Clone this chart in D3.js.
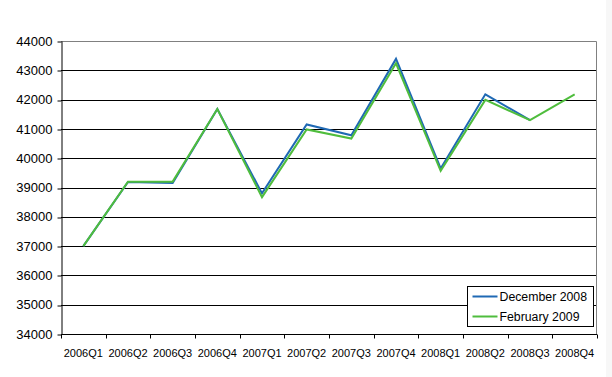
<!DOCTYPE html>
<html>
<head>
<meta charset="utf-8">
<script src="https://cdn.jsdelivr.net/npm/d3@7"></script>
<style>
  body { margin: 0; background: #fff; }
  svg { display: block; font-family: "Liberation Sans", Arial, sans-serif; }
</style>
</head>
<body>
<svg id="chart" width="612" height="377"></svg>
<script>
// Datos
const quarters = ["2006Q1", "2006Q2", "2006Q3", "2006Q4", "2007Q1", "2007Q2",
                  "2007Q3", "2007Q4", "2008Q1", "2008Q2", "2008Q3", "2008Q4"];
const dec2008 = [37000, 39190, 39150, 41680, 38800, 41150, 40780, 43390, 39650, 42180, 41300, null];
const feb2009 = [37000, 39200, 39200, 41680, 38670, 40980, 40670, 43240, 39570, 41990, 41300, 42180];
const yTicks = [34000, 35000, 36000, 37000, 38000, 39000, 40000, 41000, 42000, 43000, 44000];

const series = [
  { name: "December 2008", values: dec2008, color: "#1f69b4" },
  { name: "February 2009", values: feb2009, color: "#4fbd3d" }
];

const svg = d3.select("#chart");
const width = +svg.attr("width");
const height = +svg.attr("height");
const margin = { top: 41, right: 15, bottom: 43, left: 61 };

// franja gris clara a la derecha (borde del área del gráfico)
svg.append("rect")
  .attr("x", 606).attr("y", 0)
  .attr("width", width - 606).attr("height", height)
  .attr("fill", "#f7f7f7");

const x = d3.scaleBand()
  .domain(quarters)
  .range([margin.left, width - margin.right]);

const y = d3.scaleLinear()
  .domain([34000, 44000])
  .range([height - margin.bottom, margin.top]);

// Líneas de cuadrícula
svg.append("g")
  .selectAll("line")
  .data(yTicks.filter(d => d > 34000 && d < 44000))
  .enter()
  .append("line")
  .attr("x1", margin.left).attr("x2", width - margin.right)
  .attr("y1", d => Math.round(y(d)) + 0.5)
  .attr("y2", d => Math.round(y(d)) + 0.5)
  .attr("stroke", "#000")
  .attr("stroke-width", 1);

// Borde superior y derecho en gris
svg.append("path")
  .attr("d", `M${margin.left},${margin.top + 0.5}H${width - margin.right - 0.5}V${height - margin.bottom}`)
  .attr("fill", "none")
  .attr("stroke", "#808080")
  .attr("stroke-width", 1);

// Eje Y
const yAxis = svg.append("g")
  .attr("transform", `translate(${margin.left + 0.5},0)`)
  .call(d3.axisLeft(y).tickValues(yTicks).tickSize(4).tickSizeOuter(0).tickPadding(5).tickFormat(d3.format("d")));
yAxis.selectAll("line").attr("transform", d => `translate(0,${Math.round(y(d)) + 0.5 - y(d)})`);
yAxis.select(".domain").attr("stroke", "#000");
yAxis.selectAll("text")
  .attr("font-size", 13)
  .attr("font-family", "Liberation Sans, Arial, sans-serif")
  .attr("fill", "#000");

// Eje X (marcas en los límites de cada categoría)
const xAxisG = svg.append("g")
  .attr("transform", `translate(0,${Math.round(height - margin.bottom) + 0.5})`);
xAxisG.append("line")
  .attr("x1", margin.left).attr("x2", width - margin.right)
  .attr("stroke", "#000");
const bounds = quarters.map(q => x(q)).concat([x.range()[1]]);
xAxisG.selectAll(".tk")
  .data(bounds)
  .enter()
  .append("line")
  .attr("x1", d => Math.round(d) + 0.5).attr("x2", d => Math.round(d) + 0.5)
  .attr("y1", 0).attr("y2", 4)
  .attr("stroke", "#000");
xAxisG.selectAll("text")
  .data(quarters)
  .enter()
  .append("text")
  .attr("x", d => x(d) + x.bandwidth() / 2)
  .attr("y", 22)
  .attr("text-anchor", "middle")
  .attr("font-size", 11)
  .attr("fill", "#000")
  .text(d => d);

// Líneas de las series
const line = d3.line()
  .defined(d => d.v != null)
  .x(d => x(d.q) + x.bandwidth() / 2)
  .y(d => y(d.v));

series.forEach(s => {
  svg.append("path")
    .datum(quarters.map((q, i) => ({ q: q, v: s.values[i] })))
    .attr("fill", "none")
    .attr("stroke", s.color)
    .attr("stroke-width", 2)
    .attr("stroke-linejoin", "miter")
    .attr("d", line);
});

// Leyenda
const legend = svg.append("g").attr("transform", "translate(467.5,286.5)");
legend.append("rect")
  .attr("width", 126).attr("height", 40)
  .attr("fill", "#fff")
  .attr("stroke", "#000");
series.forEach((s, i) => {
  legend.append("line")
    .attr("x1", 5).attr("x2", 30)
    .attr("y1", 10 + i * 20).attr("y2", 10 + i * 20)
    .attr("stroke", s.color)
    .attr("stroke-width", 2);
  legend.append("text")
    .attr("x", 32).attr("y", 14.5 + i * 20)
    .attr("font-size", 12.3)
    .attr("fill", "#000")
    .text(s.name);
});
</script>
</body>
</html>
